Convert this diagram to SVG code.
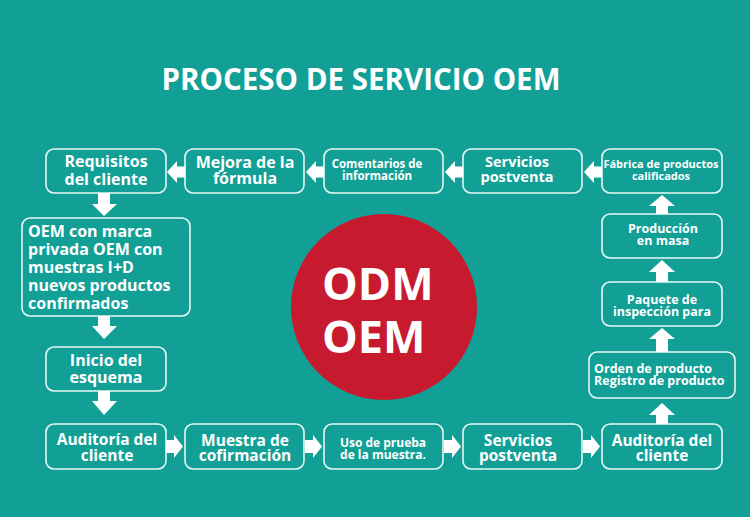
<svg xmlns="http://www.w3.org/2000/svg" width="750" height="517" viewBox="0 0 750 517">
<style>
.box{fill:#12a096;stroke:#e6f7f4;stroke-width:1.6}
.t{font-family:"Open Sans","Noto Sans","Liberation Sans",sans-serif;font-weight:bold;fill:#ffffff;text-anchor:middle}
.l{text-anchor:start}
.arr{fill:#ffffff}
</style>
<rect x="0" y="0" width="750" height="517" fill="#12a096"/>
<text class="t" x="361" y="90" font-size="29.5">PROCESO DE SERVICIO OEM</text>

<g id="center">
<circle cx="384" cy="307" r="93" fill="#c71a2f"/>
<text class="t l" x="322" y="300" font-size="45">ODM<tspan x="322" y="353">OEM</tspan></text>
</g>

<g id="n1"><rect class="box" x="46" y="149" width="120" height="44" rx="8"/>
<text class="t" x="106" y="167" font-size="16">Requisitos<tspan x="106" y="185">del cliente</tspan></text></g>
<g id="n2"><rect class="box" x="185" y="149" width="119" height="44" rx="8"/>
<text class="t" x="245" y="168" font-size="16">Mejora de la<tspan x="245" y="184">fórmula</tspan></text></g>
<g id="n3"><rect class="box" x="324" y="149" width="119" height="44" rx="8"/>
<text class="t" x="377" y="168" font-size="11.5">Comentarios de<tspan x="377" y="180">información</tspan></text></g>
<g id="n4"><rect class="box" x="463" y="149" width="119" height="44" rx="8"/>
<text class="t" x="517" y="167" font-size="14.5">Servicios<tspan x="517" y="182">postventa</tspan></text></g>
<g id="n5"><rect class="box" x="602" y="149" width="120" height="44" rx="8"/>
<text class="t" x="661" y="168" font-size="11">Fábrica de productos<tspan x="661" y="180">calificados</tspan></text></g>

<g id="n6"><rect class="box" x="22" y="218" width="168" height="98" rx="8"/>
<text class="t l" x="28" y="237" font-size="16">OEM con marca<tspan x="28" y="255">privada OEM con</tspan><tspan x="28" y="273">muestras I+D</tspan><tspan x="28" y="291">nuevos productos</tspan><tspan x="28" y="309">confirmados</tspan></text></g>
<g id="n7"><rect class="box" x="46" y="347" width="120" height="44" rx="8"/>
<text class="t" x="106" y="366" font-size="16">Inicio del<tspan x="106" y="383">esquema</tspan></text></g>

<g id="n8"><rect class="box" x="46" y="424" width="120" height="45" rx="8"/>
<text class="t" x="107" y="445" font-size="15.5">Auditoría del<tspan x="107" y="461">cliente</tspan></text></g>
<g id="n9"><rect class="box" x="185" y="424" width="119" height="45" rx="8"/>
<text class="t" x="245" y="446" font-size="15.5">Muestra de<tspan x="245" y="461">cofirmación</tspan></text></g>
<g id="n10"><rect class="box" x="324" y="424" width="119" height="45" rx="8"/>
<text class="t" x="383" y="447" font-size="12">Uso de prueba<tspan x="383" y="459">de la muestra.</tspan></text></g>
<g id="n11"><rect class="box" x="463" y="424" width="119" height="45" rx="8"/>
<text class="t" x="518" y="446" font-size="15.5">Servicios<tspan x="518" y="461">postventa</tspan></text></g>
<g id="n12"><rect class="box" x="602" y="424" width="120" height="45" rx="8"/>
<text class="t" x="662" y="446" font-size="15.5">Auditoría del<tspan x="662" y="461">cliente</tspan></text></g>

<g id="n13"><rect class="box" x="589" y="352" width="146" height="46" rx="8"/>
<text class="t l" x="594" y="373" font-size="12.5">Orden de producto<tspan x="594" y="385">Registro de producto</tspan></text></g>
<g id="n14"><rect class="box" x="602" y="282" width="120" height="44" rx="8"/>
<text class="t" x="662" y="304" font-size="12.5">Paquete de<tspan x="662" y="316">inspección para</tspan></text></g>
<g id="n15"><rect class="box" x="602" y="214" width="120" height="44" rx="8"/>
<text class="t" x="663" y="233" font-size="12.5">Producción<tspan x="663" y="245">en masa</tspan></text></g>

<g id="connectors">
<polygon class="arr" points="167,172 177,161 177,166.5 185,166.5 185,177.5 177,177.5 177,183"/>
<polygon class="arr" points="306,172 316,161 316,166.5 324,166.5 324,177.5 316,177.5 316,183"/>
<polygon class="arr" points="445,172 455,161 455,166.5 463,166.5 463,177.5 455,177.5 455,183"/>
<polygon class="arr" points="584,172 594,161 594,166.5 602,166.5 602,177.5 594,177.5 594,183"/>
<polygon class="arr" points="98,193 110,193 110,204 117,204 104,216 92,204 98,204"/>
<polygon class="arr" points="98,316 110,316 110,326 117,326 104,339 92,326 98,326"/>
<polygon class="arr" points="98,391 110,391 110,401 117,401 104,415 92,401 98,401"/>
<polygon class="arr" points="166,440 174,440 174,435 183,446.5 174,458 174,453 166,453"/>
<polygon class="arr" points="305,440 313,440 313,435 322,446.5 313,458 313,453 305,453"/>
<polygon class="arr" points="444,440 452,440 452,435 461,446.5 452,458 452,453 444,453"/>
<polygon class="arr" points="583,440 591,440 591,435 600,446.5 591,458 591,453 583,453"/>
<polygon class="arr" points="656,424 668,424 668,415 675,415 662,403 649,415 656,415"/>
<polygon class="arr" points="656,352 668,352 668,339 675,339 662,328 649,339 656,339"/>
<polygon class="arr" points="656,282 668,282 668,272 675,272 662,260 649,272 656,272"/>
<polygon class="arr" points="656,214 668,214 668,206 675,206 662,195 649,206 656,206"/>
</g>
</svg>
